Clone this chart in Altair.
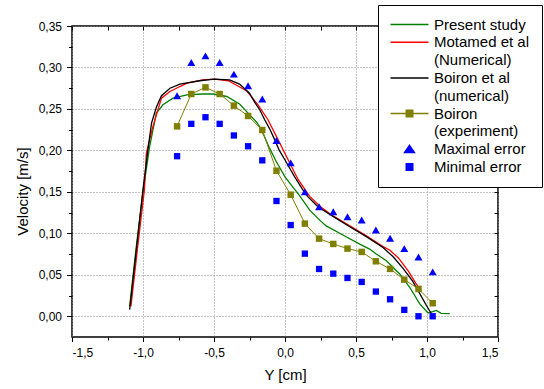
import altair as alt
import pandas as pd

# ---------------- data ----------------
# Present study (green curve)
green_x = [-1.094, -1.05, -1.0, -0.953, -0.906, -0.859, -0.789, -0.69, -0.58, -0.507, -0.41, -0.32,
           -0.26, -0.20, -0.166, -0.11, -0.06, 0.0, 0.05, 0.10, 0.174, 0.25, 0.29, 0.408, 0.526,
           0.596, 0.643, 0.714, 0.808, 0.878, 0.949, 1.007, 1.04, 1.066, 1.10, 1.16]
green_y = [0.012, 0.080, 0.150, 0.205, 0.245, 0.255, 0.263, 0.267, 0.268, 0.268, 0.265, 0.256,
           0.245, 0.234, 0.225, 0.203, 0.186, 0.168, 0.157, 0.146, 0.128, 0.115, 0.109, 0.098, 0.087,
           0.081, 0.075, 0.067, 0.051, 0.035, 0.015, 0.004, 0.0055, 0.007, 0.0035, 0.0033]

# Motamed et al (numerical, red curve)
red_x = [-1.085, -1.04, -0.99, -0.976, -0.93, -0.87, -0.81, -0.74, -0.69, -0.58, -0.495, -0.40,
         -0.366, -0.272, -0.19, -0.12, -0.049, 0.021, 0.092, 0.174, 0.25, 0.338, 0.456, 0.573,
         0.69, 0.737, 0.80, 0.87, 0.92, 0.96]
red_y = [0.012, 0.080, 0.153, 0.197, 0.229, 0.263, 0.271, 0.277, 0.281, 0.285, 0.286, 0.284,
         0.281, 0.272, 0.255, 0.237, 0.213, 0.189, 0.165, 0.1446, 0.132, 0.121, 0.109, 0.097,
         0.084, 0.080, 0.070, 0.054, 0.040, 0.031]

# Boiron et al (numerical, black curve)
black_x = [-1.094, -1.047, -1.0, -0.965, -0.94, -0.906, -0.87, -0.81, -0.74, -0.60, -0.50, -0.39,
           -0.32, -0.25, -0.213, -0.178, -0.143, -0.108, -0.073, -0.04, -0.002, 0.068, 0.127,
           0.162, 0.232, 0.338, 0.456, 0.573, 0.69, 0.76, 0.83, 0.90, 0.95, 0.996, 1.031]
black_y = [0.008, 0.080, 0.153, 0.201, 0.233, 0.252, 0.266, 0.275, 0.280, 0.284, 0.286, 0.285,
           0.280, 0.269, 0.258, 0.249, 0.237, 0.226, 0.213, 0.200, 0.189, 0.168, 0.152,
           0.144, 0.132, 0.1205, 0.108, 0.096, 0.083, 0.072, 0.058, 0.042, 0.027, 0.013, 0.003]

# measured points
pts_x = [-0.76, -0.66, -0.56, -0.46, -0.36, -0.26, -0.16, -0.06, 0.04, 0.14, 0.24, 0.34, 0.44,
         0.54, 0.64, 0.74, 0.84, 0.94, 1.04]
exp_y = [0.229, 0.268, 0.276, 0.268, 0.254, 0.2415, 0.2246, 0.1755, 0.1466, 0.1117, 0.0936,
         0.0872, 0.0816, 0.0776, 0.0663, 0.0571, 0.0442, 0.033, 0.0157]
max_y = [0.266, 0.306, 0.314, 0.306, 0.292, 0.278, 0.262, 0.212, 0.185, 0.150, 0.132, 0.126,
         0.120, 0.116, 0.104, 0.094, 0.0816, 0.0715, 0.0535]
min_y = [0.193, 0.232, 0.240, 0.232, 0.218, 0.205, 0.188, 0.139, 0.110, 0.0755, 0.057, 0.0514,
         0.0462, 0.0414, 0.0298, 0.0205, 0.0077, 0.0, 0.0]

# legend entries (continuation lines are separate rows)
legend_entries = ["Present study\u00a0\u00a0", "Motamed et al", "\u00a0(Numerical)", "Boiron et al",
                  "\u00a0(numerical)", "Boiron", "\u00a0(experiment)", "Maximal error", "Minimal error"]

# axis ticks
x_major = [-1.5, -1.0, -0.5, 0.0, 0.5, 1.0, 1.5]
x_minor = [-1.25, -0.75, -0.25, 0.25, 0.75, 1.25]
x_all = [-1.5, -1.25, -1.0, -0.75, -0.5, -0.25, 0.0, 0.25, 0.5, 0.75, 1.0, 1.25, 1.5]
y_major = [0.0, 0.05, 0.10, 0.15, 0.20, 0.25, 0.30, 0.35]
y_minor = [0.025, 0.075, 0.125, 0.175, 0.225, 0.275, 0.325]
y_all = [0.0, 0.025, 0.05, 0.075, 0.10, 0.125, 0.15, 0.175, 0.20, 0.225, 0.25, 0.275, 0.30, 0.325]

# ---------------- styling ----------------
GREEN = "#008000"
RED = "#FF0000"
BLACK = "#000000"
OLIVE = "#808000"
BLUE = "#0000FF"
FONT = "Liberation Sans"

x_dom = [-1.5, 1.5]
y_dom = [-0.025, 0.35]
xs = alt.Scale(domain=x_dom, nice=False, zero=False)
ys = alt.Scale(domain=y_dom, nice=False, zero=False)

x_label_expr = "(datum.value < 0 ? '-' : '') + replace(format(abs(datum.value), '.1f'), '.', ',')"
y_label_expr = "replace(format(datum.value, '.2f'), '.', ',')"

grid_kw = dict(grid=True, gridColor="#8a8a8a", gridDash=[1, 2], gridWidth=1)

ax_x_major = alt.Axis(orient="bottom", values=x_major, tickSize=4.5, labelExpr=x_label_expr,
                      labelPadding=6, domain=False, titleX=213, titleY=37,
                      titleBaseline="middle", titleAlign="center", **grid_kw)
ax_y_major = alt.Axis(orient="left", values=y_major, tickSize=5.5, labelExpr=y_label_expr,
                      labelPadding=5, domain=False, titleX=-50, titleY=165, titleAngle=270,
                      titleBaseline="middle", titleAlign="center", **grid_kw)
ax_x_minor = alt.Axis(orient="bottom", values=x_minor, tickSize=3, labels=False, grid=False, domain=False)
ax_y_minor = alt.Axis(orient="left", values=y_minor, tickSize=3.5, labels=False, grid=False, domain=False)
ax_x_top = alt.Axis(orient="top", values=x_all, tickSize=4, offset=-4, labels=False, grid=False, domain=False)
ax_y_right = alt.Axis(orient="right", values=y_all, tickSize=4, offset=-4, labels=False, grid=False, domain=False)


def df(xv, yv):
    return pd.DataFrame({"x": xv, "y": yv})


green_layer = alt.Chart(df(green_x, green_y)).mark_line(color=GREEN, strokeWidth=1.3).encode(
    x=alt.X("x:Q", scale=xs, axis=ax_x_major, title="Y [cm]"),
    y=alt.Y("y:Q", scale=ys, axis=ax_y_major, title="Velocity [m/s]"),
    order="x:Q",
)
red_layer = alt.Chart(df(red_x, red_y)).mark_line(color=RED, strokeWidth=1.3).encode(
    x=alt.X("x:Q", scale=xs, axis=ax_x_minor, title=None),
    y=alt.Y("y:Q", scale=ys, axis=ax_y_minor, title=None),
    order="x:Q",
)
black_layer = alt.Chart(df(black_x, black_y)).mark_line(color=BLACK, strokeWidth=1.3).encode(
    x=alt.X("x:Q", scale=xs, axis=ax_x_top, title=None),
    y=alt.Y("y:Q", scale=ys, axis=ax_y_right, title=None),
    order="x:Q",
)
exp_line = alt.Chart(df(pts_x, exp_y)).mark_line(color=OLIVE, strokeWidth=1).encode(
    x=alt.X("x:Q", scale=xs, axis=None),
    y=alt.Y("y:Q", scale=ys, axis=None),
    order="x:Q",
)
exp_pts = alt.Chart(df(pts_x, exp_y)).mark_point(
    shape="square", filled=True, size=42, color=OLIVE, opacity=1).encode(
    x=alt.X("x:Q", scale=xs, axis=None),
    y=alt.Y("y:Q", scale=ys, axis=None),
)
max_pts = alt.Chart(df(pts_x, max_y)).mark_point(
    shape="triangle-up", filled=True, size=64, color=BLUE, opacity=1).encode(
    x=alt.X("x:Q", scale=xs, axis=None),
    y=alt.Y("y:Q", scale=ys, axis=None),
)
min_pts = alt.Chart(df(pts_x, min_y)).mark_point(
    shape="square", filled=True, size=40, color=BLUE, opacity=1).encode(
    x=alt.X("x:Q", scale=xs, axis=None),
    y=alt.Y("y:Q", scale=ys, axis=None),
)

# legend-only layer (positions are null, so nothing is drawn in the plot)
# symbolSize 100 -> path units are scaled by 5 px
LINE = "M-3.8,0H3.8"
NONE = "M0,0"
leg_shapes = [LINE, LINE, NONE, LINE, NONE,
              "M-3.8,0H3.8M-0.65,-0.65H0.65V0.65H-0.65Z", NONE,
              "M0,-0.76L0.98,0.68L-0.98,0.68Z",
              "M-0.65,-0.65H0.65V0.65H-0.65Z"]
leg_strokes = [GREEN, RED, "transparent", BLACK, "transparent", OLIVE, "transparent", BLUE, BLUE]
leg_fills = ["transparent", "transparent", "transparent", "transparent", "transparent",
             OLIVE, "transparent", BLUE, BLUE]

leg = alt.Legend(title=None, orient="none", legendX=306, legendY=-21, padding=12,
                 strokeColor="black", fillColor="white", cornerRadius=0,
                 labelFont=FONT, labelFontSize=15, labelColor="black",
                 symbolOffset=12, labelOffset=17,
                 rowPadding=1.8, symbolSize=100, symbolStrokeWidth=1.5, labelLimit=300,
                 symbolOpacity=1)

legend_df = pd.DataFrame({"entry": legend_entries,
                          "x": [None] * len(legend_entries),
                          "y": [None] * len(legend_entries)})
legend_layer = alt.Chart(legend_df).mark_point(filled=True, opacity=1, strokeWidth=1.5).encode(
    x=alt.X("x:Q", scale=xs, axis=None),
    y=alt.Y("y:Q", scale=ys, axis=None),
    fill=alt.Fill("entry:N", scale=alt.Scale(domain=legend_entries, range=leg_fills), legend=leg),
    stroke=alt.Stroke("entry:N", scale=alt.Scale(domain=legend_entries, range=leg_strokes), legend=leg),
    shape=alt.Shape("entry:N", scale=alt.Scale(domain=legend_entries, range=leg_shapes), legend=leg),
)

chart = alt.layer(
    green_layer, red_layer, black_layer, exp_line, exp_pts, max_pts, min_pts, legend_layer
).resolve_axis(
    x="independent", y="independent"
).properties(
    width=426, height=311,
    autosize=alt.AutoSizeParams(type="none"),
    padding={"left": 72, "top": 26, "right": 46, "bottom": 52},
    background="white",
).configure_axis(
    labelFont=FONT, titleFont=FONT, labelFontSize=12, titleFontSize=15,
    titleFontWeight="normal", labelColor="black", titleColor="black",
    tickColor="black", tickWidth=1,
).configure_view(
    stroke="black", strokeWidth=1.5,
)

chart.save("out.html", embed_options={"renderer": "svg", "actions": False})
